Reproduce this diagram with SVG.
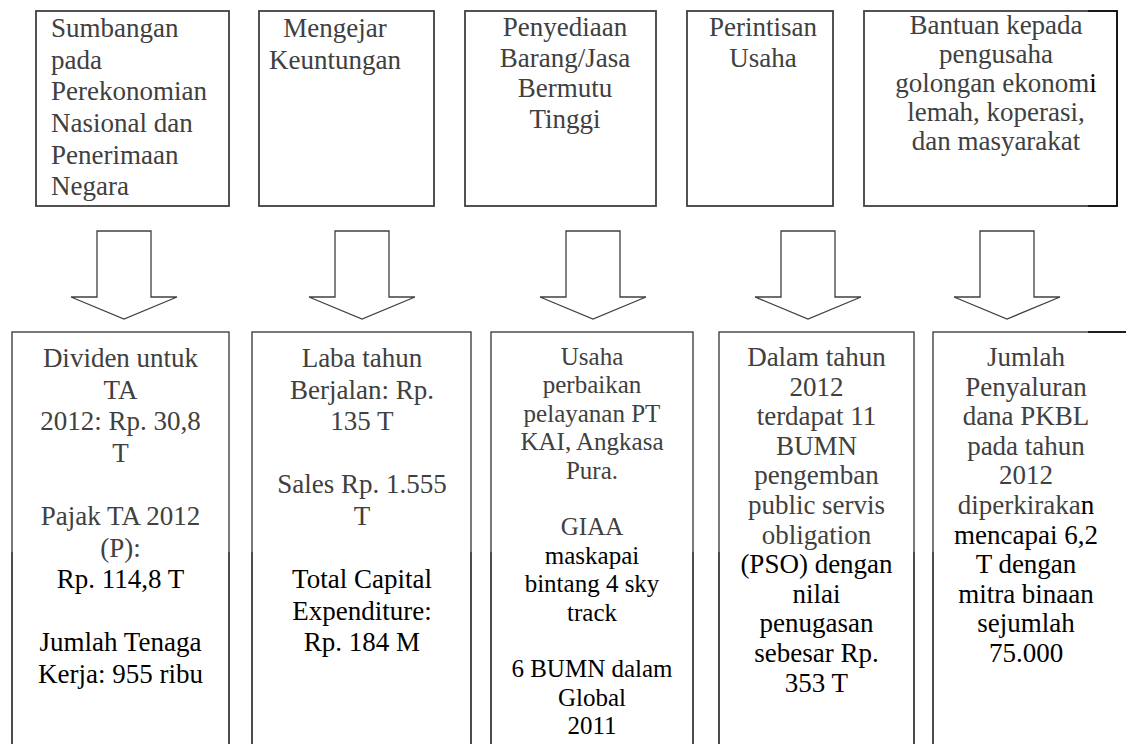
<svg xmlns="http://www.w3.org/2000/svg" width="1126" height="744" viewBox="0 0 1126 744">
<defs>
<linearGradient id="gv" gradientUnits="userSpaceOnUse" x1="0" y1="0" x2="0" y2="744">
<stop offset="0" stop-color="#404040"/><stop offset="0.742" stop-color="#404040"/><stop offset="0.742" stop-color="#000"/><stop offset="1" stop-color="#000"/>
</linearGradient>
<linearGradient id="gh" gradientUnits="userSpaceOnUse" x1="864" y1="0" x2="1117" y2="0">
<stop offset="0" stop-color="#404040"/><stop offset="0.885" stop-color="#404040"/><stop offset="0.885" stop-color="#000"/><stop offset="1" stop-color="#000"/>
</linearGradient>
<style>
text{font-family:"Liberation Serif","Times New Roman",serif;font-size:27px;fill:#404040}
.m{text-anchor:middle}
.sm{font-size:25px}
.k{fill:#000}
.top{fill:none;stroke:#404040;stroke-width:1.8}
.bot{fill:none;stroke:url(#gv);stroke-width:1.4}
.arr{fill:#fff;stroke:#404040;stroke-width:1.3}
</style>
<polygon id="arrow" class="arr" points="0,0 54,0 54,66 80,66 27,88 -26,66 0,66"/>
</defs>
<rect width="1126" height="744" fill="#fff"/>

<g id="goal-sumbangan">
<rect class="top" x="36" y="11" width="193" height="195"/>
<text x="51" y="37">Sumbangan</text>
<text x="51" y="68.6">pada</text>
<text x="51" y="100.3">Perekonomian</text>
<text x="51" y="132">Nasional dan</text>
<text x="51" y="163.6">Penerimaan</text>
<text x="51" y="195.3">Negara</text>
</g>
<g id="goal-keuntungan">
<rect class="top" x="259" y="11" width="175" height="195"/>
<text class="m" x="335" y="37">Mengejar</text>
<text class="m" x="335" y="68.6">Keuntungan</text>
</g>
<g id="goal-penyediaan">
<rect class="top" x="465" y="11" width="191" height="195"/>
<text class="m" x="565" y="36">Penyediaan</text>
<text class="m" x="565" y="66.5">Barang/Jasa</text>
<text class="m" x="565" y="97">Bermutu</text>
<text class="m" x="565" y="127.5">Tinggi</text>
</g>
<g id="goal-perintisan">
<rect class="top" x="687" y="11" width="146" height="195"/>
<text class="m" x="763" y="35.5">Perintisan</text>
<text class="m" x="763" y="67">Usaha</text>
</g>
<g id="goal-bantuan">
<rect x="864" y="11" width="253" height="195" fill="none" stroke="url(#gh)" stroke-width="1.8"/>
<text class="m" x="996" y="33.5">Bantuan kepada</text>
<text class="m" x="996" y="62.7">pengusaha</text>
<text class="m" x="996" y="91.9">golongan ekonom<tspan class="k">i</tspan></text>
<text class="m" x="996" y="121.1">lemah, koperasi,</text>
<text class="m" x="996" y="150.3">dan masyarakat</text>
</g>

<g id="connectors">
<use href="#arrow" x="97" y="231"/>
<use href="#arrow" x="335" y="231"/>
<use href="#arrow" x="566" y="231"/>
<use href="#arrow" x="781" y="231"/>
<use href="#arrow" x="980" y="231"/>
</g>

<g id="result-dividen">
<rect class="bot" x="12" y="332" width="217" height="430"/>
<text class="m" x="120.5" y="367">Dividen untuk</text>
<text class="m" x="120.5" y="398.6">TA</text>
<text class="m" x="120.5" y="430.2">2012: Rp. 30,8</text>
<text class="m" x="120.5" y="461.8">T</text>
<text class="m" x="120.5" y="525">Pajak TA 2012</text>
<text class="m" x="120.5" y="556.6">(P):</text>
<text class="m k" x="120.5" y="588.2">Rp. 114,8 T</text>
<text class="m k" x="120.5" y="651.4">Jumlah Tenaga</text>
<text class="m k" x="120.5" y="683">Kerja: 955 ribu</text>
</g>
<g id="result-laba">
<rect class="bot" x="252" y="332" width="219" height="430"/>
<text class="m" x="362" y="367">Laba tahun</text>
<text class="m" x="362" y="398.6">Berjalan: Rp.</text>
<text class="m" x="362" y="430.2">135 T</text>
<text class="m" x="362" y="493.4">Sales Rp. 1.555</text>
<text class="m" x="362" y="525">T</text>
<text class="m k" x="362" y="588.2">Total Capital</text>
<text class="m k" x="362" y="619.8">Expenditure:</text>
<text class="m k" x="362" y="651.4">Rp. 184 M</text>
</g>
<g id="result-usaha">
<rect class="bot" x="491" y="332" width="202" height="430"/>
<text class="m sm" x="592" y="365">Usaha</text>
<text class="m sm" x="592" y="393.4">perbaikan</text>
<text class="m sm" x="592" y="421.8">pelayanan PT</text>
<text class="m sm" x="592" y="450.2">KAI, Angkasa</text>
<text class="m sm" x="592" y="478.6">Pura.</text>
<text class="m sm" x="592" y="535.4">GIAA</text>
<text class="m sm k" x="592" y="563.8">maskapai</text>
<text class="m sm k" x="592" y="592.2">bintang 4 sky</text>
<text class="m sm k" x="592" y="620.6">track</text>
<text class="m sm k" x="592" y="677.4">6 BUMN dalam</text>
<text class="m sm k" x="592" y="705.8">Global</text>
<text class="m sm k" x="592" y="734.2">2011</text>
</g>
<g id="result-pso">
<rect class="bot" x="719" y="332" width="195" height="430"/>
<text class="m" x="816.5" y="366">Dalam tahun</text>
<text class="m" x="816.5" y="395.6">2012</text>
<text class="m" x="816.5" y="425.2">terdapat 11</text>
<text class="m" x="816.5" y="454.8">BUMN</text>
<text class="m" x="816.5" y="484.4">pengemban</text>
<text class="m" x="816.5" y="514">public servis</text>
<text class="m" x="816.5" y="543.6">obligation</text>
<text class="m k" x="816.5" y="573.2">(PSO) dengan</text>
<text class="m k" x="816.5" y="602.8">nilai</text>
<text class="m k" x="816.5" y="632.4">penugasan</text>
<text class="m k" x="816.5" y="662">sebesar Rp.</text>
<text class="m k" x="816.5" y="691.6">353 T</text>
</g>
<g id="result-pkbl">
<rect class="bot" x="933" y="332" width="210" height="430"/>
<line x1="1088" y1="332" x2="1126" y2="332" stroke="#000" stroke-width="1.4"/>
<text class="m" x="1026" y="366">Jumlah</text>
<text class="m" x="1026" y="395.6">Penyaluran</text>
<text class="m" x="1026" y="425.2">dana PKBL</text>
<text class="m" x="1026" y="454.8">pada tahun</text>
<text class="m" x="1026" y="484.4">2012</text>
<text class="m" x="1026" y="514">diperkiraka<tspan class="k">n</tspan></text>
<text class="m k" x="1026" y="543.6">mencapai 6,2</text>
<text class="m k" x="1026" y="573.2">T dengan</text>
<text class="m k" x="1026" y="602.8">mitra binaan</text>
<text class="m k" x="1026" y="632.4">sejumlah</text>
<text class="m k" x="1026" y="662">75.000</text>
</g>
</svg>
